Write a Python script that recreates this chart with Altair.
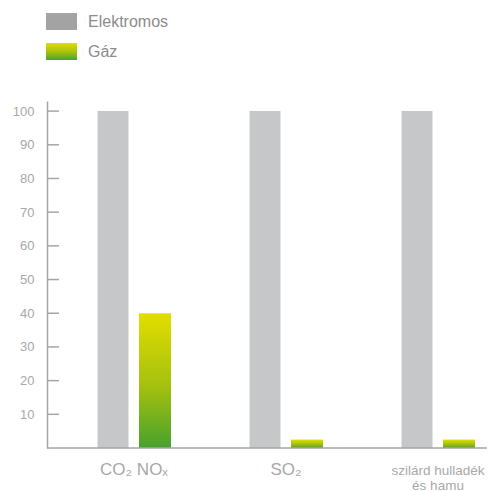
import altair as alt
import pandas as pd

categories = ["CO₂ NOₓ", "SO₂", "szilárd hulladék és hamu"]
series = ["Elektromos", "Gáz"]
elektromos = [100, 100, 100]
gaz = [40, 2.5, 2.5]
y_ticks = [10, 20, 30, 40, 50, 60, 70, 80, 90, 100]

rows = []
for c, e, g in zip(categories, elektromos, gaz):
    rows.append({"cat": c, "series": series[0], "value": e})
    rows.append({"cat": c, "series": series[1], "value": g})
df = pd.DataFrame(rows)
tick_df = pd.DataFrame({"value": y_ticks})
zero_df = pd.DataFrame({"value": [0]})

FONT = "Liberation Sans"
GRAY_BAR = "#c6c7c9"
GRAY_LEG = "#a3a3a3"
AXIS = "#a5a5a5"
LABEL = "#a8a8a8"
LEGTXT = "#8c8c8c"
LONG = "szilárd hulladék és hamu"

def grad():
    return alt.LinearGradient(
        gradient="linear", x1=0, x2=0, y1=0, y2=1,
        stops=[
            alt.GradientStop(offset=0, color="#e3dd00"),
            alt.GradientStop(offset=0.55, color="#a3c00f"),
            alt.GradientStop(offset=1, color="#46a22d"),
        ],
    )

x_enc = alt.X(
    "cat:N", sort=categories, title=None,
    scale=alt.Scale(range=[11, 467], paddingInner=0, paddingOuter=0),
    axis=alt.Axis(
        domain=False, ticks=False, labelAngle=0, labelPadding=26,
        labelBaseline="alphabetic", labelColor=LABEL, labelFont=FONT,
        labelFontSize={"condition": {"test": f"datum.value == '{LONG}'", "value": 13.5}, "value": 17},
        labelExpr=f"datum.value == '{LONG}' ? ['szilárd hulladék', 'és hamu'] : datum.value",
        labelLineHeight=15, labelLimit=300,
    ),
)
xoff = alt.XOffset(
    "series:N", sort=series,
    scale=alt.Scale(range=[34, 118], paddingInner=0, paddingOuter=0),
)
y_enc = alt.Y(
    "value:Q", title=None,
    scale=alt.Scale(domain=[0, 103], nice=False),
    axis=alt.Axis(
        values=y_ticks, ticks=False, grid=False, domainColor=AXIS,
        domainWidth=1.5, labelColor=LABEL, labelFont=FONT, labelFontSize=13,
        labelPadding=13,
    ),
)

bars_e = alt.Chart(df).transform_filter(alt.datum.series == series[0]).mark_bar(
    size=31, color=GRAY_BAR
).encode(x=x_enc, xOffset=xoff, y=y_enc)

bars_g = alt.Chart(df).transform_filter(alt.datum.series == series[1]).mark_bar(
    size=32, fill=grad()
).encode(x=x_enc, xOffset=xoff, y=y_enc)

ticks = alt.Chart(tick_df).mark_rule(color=AXIS, strokeWidth=1.5).encode(
    y=y_enc, x=alt.value(0), x2=alt.value(12)
)
xline = alt.Chart(zero_df).mark_rule(color=AXIS, strokeWidth=1.5).encode(
    y=y_enc, x=alt.value(0), x2=alt.value(440)
)

leg_df1 = pd.DataFrame({"series": [series[0]]})
leg_df2 = pd.DataFrame({"series": [series[1]]})
sw1 = alt.Chart(leg_df1).mark_rect(fill=GRAY_LEG).encode(
    x=alt.value(-1), x2=alt.value(30), y=alt.value(-88), y2=alt.value(-71)
)
sw2 = alt.Chart(leg_df2).mark_rect(fill=grad()).encode(
    x=alt.value(-1), x2=alt.value(30), y=alt.value(-58), y2=alt.value(-41)
)
tx1 = alt.Chart(leg_df1).mark_text(
    align="left", baseline="middle", font=FONT, fontSize=16, color=LEGTXT
).encode(x=alt.value(41), y=alt.value(-79), text="series:N")
tx2 = alt.Chart(leg_df2).mark_text(
    align="left", baseline="middle", font=FONT, fontSize=16, color=LEGTXT
).encode(x=alt.value(41), y=alt.value(-49), text="series:N")

chart = alt.layer(bars_e, bars_g, ticks, xline, sw1, sw2, tx1, tx2).properties(
    width=440, height=347,
    autosize=alt.AutoSizeParams(type="none"),
    padding={"left": 39, "top": 93, "right": 0, "bottom": 43},
).configure_view(stroke=None)

chart.save("out.html", embed_options={"renderer": "svg", "actions": False})
